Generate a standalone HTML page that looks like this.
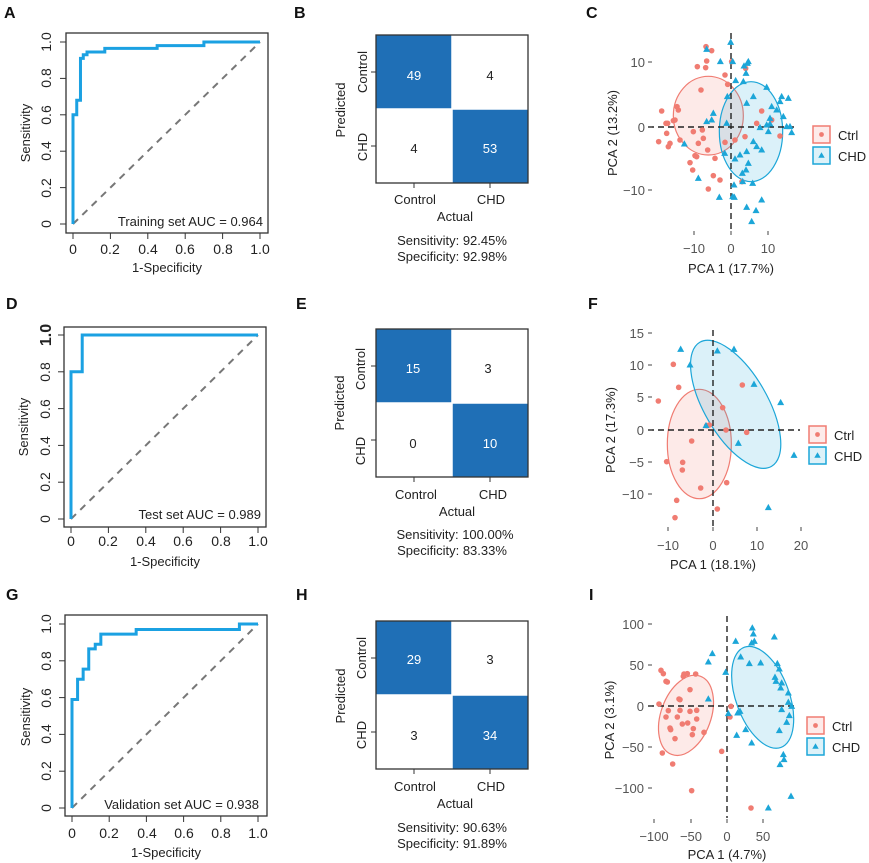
<!DOCTYPE html>
<html><head><meta charset="utf-8">
<style>
html,body{margin:0;padding:0;background:#fff;}
svg{display:block;font-family:"Liberation Sans",Arial,sans-serif;}
.lt{font-weight:bold;font-size:16px;fill:#111;}
.t{font-size:13px;fill:#222;}
.g{font-size:13px;fill:#555;}
.rt{font-size:14px;fill:#222;}
</style></head>
<body>
<svg id="s" width="869" height="863" viewBox="0 0 869 863" xmlns="http://www.w3.org/2000/svg">
<g id="shapes"></g>
<text class="lt" x="4" y="18">A</text>
<text class="lt" x="294" y="18">B</text>
<text class="lt" x="586" y="18">C</text>
<text class="lt" x="6" y="309">D</text>
<text class="lt" x="296" y="309">E</text>
<text class="lt" x="588" y="309">F</text>
<text class="lt" x="6" y="600">G</text>
<text class="lt" x="296" y="600">H</text>
<text class="lt" x="589" y="600">I</text>

<g class="t">
<g class="rt"><text x="73" y="254" text-anchor="middle">0</text><text x="110" y="254" text-anchor="middle">0.2</text><text x="148" y="254" text-anchor="middle">0.4</text><text x="185" y="254" text-anchor="middle">0.6</text><text x="223" y="254" text-anchor="middle">0.8</text><text x="260" y="254" text-anchor="middle">1.0</text></g>
<text x="167" y="272" text-anchor="middle">1-Specificity</text>
<text x="263" y="226" text-anchor="end">Training set AUC = 0.964</text>
<text transform="translate(30,133) rotate(-90)" text-anchor="middle">Sensitivity</text>
<g class="rt">
<text transform="translate(51,224) rotate(-90)" text-anchor="middle">0</text>
<text transform="translate(51,188) rotate(-90)" text-anchor="middle">0.2</text>
<text transform="translate(51,151) rotate(-90)" text-anchor="middle">0.4</text>
<text transform="translate(51,115) rotate(-90)" text-anchor="middle">0.6</text>
<text transform="translate(51,78) rotate(-90)" text-anchor="middle">0.8</text>
<text transform="translate(51,42) rotate(-90)" text-anchor="middle">1.0</text></g>
</g>
<g class="t">
<g class="rt"><text x="71" y="546" text-anchor="middle">0</text><text x="108" y="546" text-anchor="middle">0.2</text><text x="146" y="546" text-anchor="middle">0.4</text><text x="183" y="546" text-anchor="middle">0.6</text><text x="221" y="546" text-anchor="middle">0.8</text><text x="258" y="546" text-anchor="middle">1.0</text></g>
<text x="165" y="566" text-anchor="middle">1-Specificity</text>
<text x="261" y="519" text-anchor="end">Test set AUC = 0.989</text>
<text transform="translate(28,427) rotate(-90)" text-anchor="middle">Sensitivity</text>
<g class="rt">
<text transform="translate(50,519) rotate(-90)" text-anchor="middle">0</text>
<text transform="translate(50,482) rotate(-90)" text-anchor="middle">0.2</text>
<text transform="translate(50,446) rotate(-90)" text-anchor="middle">0.4</text>
<text transform="translate(50,409) rotate(-90)" text-anchor="middle">0.6</text>
<text transform="translate(50,372) rotate(-90)" text-anchor="middle">0.8</text>
<text transform="translate(51,335) rotate(-90)" text-anchor="middle" style="font-weight:bold;font-size:16px">1.0</text></g>
</g>
<g class="t">
<g class="rt"><text x="72" y="838" text-anchor="middle">0</text><text x="109" y="838" text-anchor="middle">0.2</text><text x="147" y="838" text-anchor="middle">0.4</text><text x="184" y="838" text-anchor="middle">0.6</text><text x="221" y="838" text-anchor="middle">0.8</text><text x="258" y="838" text-anchor="middle">1.0</text></g>
<text x="166" y="857" text-anchor="middle">1-Specificity</text>
<text x="259" y="809" text-anchor="end">Validation set AUC = 0.938</text>
<text transform="translate(30,717) rotate(-90)" text-anchor="middle">Sensitivity</text>
<g class="rt">
<text transform="translate(51,808) rotate(-90)" text-anchor="middle">0</text>
<text transform="translate(51,771) rotate(-90)" text-anchor="middle">0.2</text>
<text transform="translate(51,734) rotate(-90)" text-anchor="middle">0.4</text>
<text transform="translate(51,698) rotate(-90)" text-anchor="middle">0.6</text>
<text transform="translate(51,661) rotate(-90)" text-anchor="middle">0.8</text>
<text transform="translate(51,624) rotate(-90)" text-anchor="middle">1.0</text></g>
</g>

<g class="t">
<text x="414" y="80" text-anchor="middle" style="fill:#fff">49</text>
<text x="490" y="80" text-anchor="middle">4</text>
<text x="414" y="153" text-anchor="middle">4</text>
<text x="490" y="153" text-anchor="middle" style="fill:#fff">53</text>
<text x="415" y="204" text-anchor="middle">Control</text>
<text x="491" y="204" text-anchor="middle">CHD</text>
<text x="455" y="221" text-anchor="middle">Actual</text>
<text x="452" y="245" text-anchor="middle">Sensitivity: 92.45%</text>
<text x="452" y="261" text-anchor="middle">Specificity: 92.98%</text>
<text transform="translate(345,110) rotate(-90)" text-anchor="middle">Predicted</text>
<text transform="translate(367,72) rotate(-90)" text-anchor="middle">Control</text>
<text transform="translate(367,147) rotate(-90)" text-anchor="middle">CHD</text>
</g>
<g class="t">
<text x="413" y="373" text-anchor="middle" style="fill:#fff">15</text>
<text x="488" y="373" text-anchor="middle">3</text>
<text x="413" y="448" text-anchor="middle">0</text>
<text x="490" y="448" text-anchor="middle" style="fill:#fff">10</text>
<text x="416" y="499" text-anchor="middle">Control</text>
<text x="493" y="499" text-anchor="middle">CHD</text>
<text x="457" y="516" text-anchor="middle">Actual</text>
<text x="455" y="539" text-anchor="middle">Sensitivity: 100.00%</text>
<text x="452" y="555" text-anchor="middle">Specificity: 83.33%</text>
<text transform="translate(344,403) rotate(-90)" text-anchor="middle">Predicted</text>
<text transform="translate(365,369) rotate(-90)" text-anchor="middle">Control</text>
<text transform="translate(365,451) rotate(-90)" text-anchor="middle">CHD</text>
</g>
<g class="t">
<text x="414" y="664" text-anchor="middle" style="fill:#fff">29</text>
<text x="490" y="664" text-anchor="middle">3</text>
<text x="414" y="740" text-anchor="middle">3</text>
<text x="490" y="740" text-anchor="middle" style="fill:#fff">34</text>
<text x="415" y="791" text-anchor="middle">Control</text>
<text x="491" y="791" text-anchor="middle">CHD</text>
<text x="455" y="808" text-anchor="middle">Actual</text>
<text x="452" y="832" text-anchor="middle">Sensitivity: 90.63%</text>
<text x="452" y="848" text-anchor="middle">Specificity: 91.89%</text>
<text transform="translate(345,696) rotate(-90)" text-anchor="middle">Predicted</text>
<text transform="translate(366,658) rotate(-90)" text-anchor="middle">Control</text>
<text transform="translate(366,735) rotate(-90)" text-anchor="middle">CHD</text>
</g>

<g class="g">
<text x="645" y="67" text-anchor="end">10</text><text x="645" y="132" text-anchor="end">0</text><text x="645" y="195" text-anchor="end">−10</text>
<text x="694" y="253" text-anchor="middle">−10</text><text x="731" y="253" text-anchor="middle">0</text><text x="768" y="253" text-anchor="middle">10</text>
</g>
<g class="t">
<text x="731" y="273" text-anchor="middle">PCA 1 (17.7%)</text>
<text transform="translate(617,133) rotate(-90)" text-anchor="middle">PCA 2 (13.2%)</text>
<text x="838" y="140">Ctrl</text><text x="838" y="161">CHD</text>
</g>
<g class="g">
<text x="644" y="338" text-anchor="end">15</text><text x="644" y="370" text-anchor="end">10</text><text x="644" y="402" text-anchor="end">5</text><text x="644" y="435" text-anchor="end">0</text><text x="644" y="467" text-anchor="end">−5</text><text x="644" y="499" text-anchor="end">−10</text>
<text x="668" y="550" text-anchor="middle">−10</text><text x="713" y="550" text-anchor="middle">0</text><text x="757" y="550" text-anchor="middle">10</text><text x="801" y="550" text-anchor="middle">20</text>
</g>
<g class="t">
<text x="713" y="569" text-anchor="middle">PCA 1 (18.1%)</text>
<text transform="translate(615,430) rotate(-90)" text-anchor="middle">PCA 2 (17.3%)</text>
<text x="834" y="440">Ctrl</text><text x="834" y="461">CHD</text>
</g>
<g class="g">
<text x="644" y="629" text-anchor="end">100</text><text x="644" y="670" text-anchor="end">50</text><text x="644" y="711" text-anchor="end">0</text><text x="644" y="752" text-anchor="end">−50</text><text x="644" y="793" text-anchor="end">−100</text>
<text x="654" y="841" text-anchor="middle">−100</text><text x="691" y="841" text-anchor="middle">−50</text><text x="727" y="841" text-anchor="middle">0</text><text x="763" y="841" text-anchor="middle">50</text>
</g>
<g class="t">
<text x="727" y="859" text-anchor="middle">PCA 1 (4.7%)</text>
<text transform="translate(614,720) rotate(-90)" text-anchor="middle">PCA 2 (3.1%)</text>
<text x="832" y="731">Ctrl</text><text x="832" y="752">CHD</text>
</g>
</svg>
<script>
(function(){
var NS="http://www.w3.org/2000/svg",G=document.getElementById("shapes");
function el(t,a){var e=document.createElementNS(NS,t);for(var k in a)e.setAttribute(k,a[k]);G.appendChild(e);return e;}
var RED="#F07C72",BLUE="#1CA6D8",CB="#1F6FB6";
function roc(bx,by,bw,bh,x0,x1,y1,y0,pts){
  el("rect",{x:bx,y:by,width:bw,height:bh,fill:"none",stroke:"#333","stroke-width":1.3});
  for(var i=0;i<=5;i++){var x=x0+(x1-x0)*i/5;el("line",{x1:x,y1:by+bh,x2:x,y2:by+bh+6,stroke:"#333"});
    var y=y0+(y1-y0)*i/5;el("line",{x1:bx-6,y1:y,x2:bx,y2:y,stroke:"#333"});}
  el("line",{x1:x0,y1:y0,x2:x1,y2:y1,stroke:"#777","stroke-width":2,"stroke-dasharray":"7,6"});
  var d=pts.map(function(p,i){return (i?"L":"M")+(x0+(x1-x0)*p[0])+","+(y0+(y1-y0)*p[1]);}).join("");
  el("path",{d:d,fill:"none",stroke:"#1BA1E2","stroke-width":3,"stroke-linejoin":"miter"});
}
function st(a){var r=[[0,0]];for(var i=0;i<a.length;i+=2){var p=r[r.length-1];r.push([p[0],a[i+1]]);r.push([a[i],a[i+1]]);}return r;}
roc(66,33,202,200,73,260,42,224,st([0.02,0.6,0.02,0.61,0.04,0.68,0.055,0.91,0.075,0.93,0.17,0.945,0.45,0.965,0.70,0.98,1,1]));
roc(64,327,202,200,71,258,335,519,st([0.06,0.8,1,1]));
roc(65,615,202,201,72,258,624,808,st([0.03,0.59,0.06,0.70,0.09,0.755,0.125,0.865,0.155,0.89,0.345,0.945,0.9,0.97,1,1]));
function cm(top){
  var l=376,w=76,h=74;
  el("rect",{x:l,y:top,width:w,height:h,fill:CB});
  el("rect",{x:l+w,y:top+h,width:w,height:h,fill:CB});
  el("line",{x1:l+w,y1:top,x2:l+w,y2:top+2*h,stroke:"#fff","stroke-width":1.5});
  el("line",{x1:l,y1:top+h,x2:l+2*w,y2:top+h,stroke:"#fff","stroke-width":1.5});
  el("rect",{x:l,y:top,width:2*w,height:2*h,fill:"none",stroke:"#333","stroke-width":1.3});
  el("line",{x1:l-5,y1:top+h/2,x2:l,y2:top+h/2,stroke:"#333"});
  el("line",{x1:l-5,y1:top+1.5*h,x2:l,y2:top+1.5*h,stroke:"#333"});
  el("line",{x1:l+w/2,y1:top+2*h,x2:l+w/2,y2:top+2*h+5,stroke:"#333"});
  el("line",{x1:l+1.5*w,y1:top+2*h,x2:l+1.5*w,y2:top+2*h+5,stroke:"#333"});
}
cm(35);cm(329);cm(621);
function pca(o){
  var oy=o.oy;
  function X(z){return 580+z/3;} function Y(z){return oy+z/3;}
  o.ell.forEach(function(e){
    el("ellipse",{cx:0,cy:0,rx:e.rx/3,ry:e.ry/3,fill:e.c,"fill-opacity":0.16,stroke:e.c,"stroke-width":1.2,transform:"translate("+X(e.cx)+","+Y(e.cy)+") rotate("+(e.r||0)+")"});
  });
  el("line",{x1:o.vx,y1:o.vy0,x2:o.vx,y2:o.vy1,stroke:"#222","stroke-width":1.4,"stroke-dasharray":"6,4"});
  el("line",{x1:o.hx0,y1:o.hy,x2:o.hx1,y2:o.hy,stroke:"#222","stroke-width":1.4,"stroke-dasharray":"6,4"});
  o.yt.forEach(function(y){el("line",{x1:648,y1:y,x2:652,y2:y,stroke:"#444"});});
  o.xt.forEach(function(x){el("line",{x1:x,y1:o.xty,x2:x,y2:o.xty+4,stroke:"#444"});});
  o.ctrl.forEach(function(p){el("circle",{cx:X(p[0]),cy:Y(p[1]),r:2.8,fill:RED});});
  o.chd.forEach(function(p){var x=X(p[0]),y=Y(p[1]);el("path",{d:"M"+x+","+(y-3.8)+"L"+(x+3.5)+","+(y+2.5)+"L"+(x-3.5)+","+(y+2.5)+"Z",fill:BLUE});});
  var L=o.leg;
  el("rect",{x:L[0],y:L[1],width:17,height:17,fill:RED,"fill-opacity":0.15,stroke:RED,"stroke-width":1.5});
  el("circle",{cx:L[0]+8.5,cy:L[1]+8.5,r:2.4,fill:RED});
  el("rect",{x:L[0],y:L[1]+21,width:17,height:17,fill:BLUE,"fill-opacity":0.15,stroke:BLUE,"stroke-width":1.5});
  var x=L[0]+8.5,y=L[1]+29.5;el("path",{d:"M"+x+","+(y-3.2)+"L"+(x+3.2)+","+(y+2.2)+"L"+(x-3.2)+","+(y+2.2)+"Z",fill:BLUE});
}
pca({oy:0,vx:731,vy0:33,vy1:233,hx0:648,hx1:797,hy:127,yt:[62,127,190],xt:[694,731,768],xty:231,leg:[813,126],
 ell:[{cx:385,cy:347,rx:105,ry:118,c:RED},{cx:513,cy:395,rx:95,ry:150,c:BLUE}],
 ctrl:[[378,140],[395,152],[380,183],[352,200],[377,203],[435,225],[455,185],[443,253],[363,270],[291,320],[295,330],[245,333],[285,360],[280,362],[263,370],[258,370],[260,400],[236,425],[270,430],[265,440],[300,420],[340,395],[367,390],[370,415],[355,430],[383,450],[345,467],[350,470],[330,488],[405,475],[338,510],[400,527],[385,567],[435,427],[465,420],[495,410],[497,205],[530,370],[545,333],[575,360],[600,408],[486,545],[420,540]],
 chd:[[380,148],[452,127],[421,185],[458,185],[505,185],[502,190],[492,198],[498,220],[490,245],[467,242],[442,290],[500,310],[520,290],[560,262],[605,290],[625,295],[600,305],[575,320],[590,330],[570,355],[610,350],[620,380],[630,380],[635,398],[560,375],[565,395],[540,383],[520,425],[530,440],[545,450],[500,455],[480,465],[465,477],[505,490],[487,520],[498,510],[488,545],[518,550],[462,555],[458,590],[418,592],[463,592],[545,600],[500,622],[528,632],[515,665],[400,340],[395,360],[380,365],[313,432],[355,535],[434,460],[440,370],[570,372]]});
pca({oy:290,vx:713,vy0:330,vy1:530,hx0:648,hx1:800,hy:430,yt:[333,365,397,430,462,494],xt:[668,713,757,801],xty:527,leg:[809,426],
 ell:[{cx:358,cy:462,rx:96,ry:164,c:RED},{cx:467,cy:343,rx:95,ry:215,r:-30,c:BLUE}],
 ctrl:[[280,223],[296,292],[235,333],[428,353],[487,285],[380,407],[438,420],[500,427],[335,453],[260,515],[308,517],[307,540],[440,578],[362,594],[290,631],[412,657],[285,683],[388,405]],
 chd:[[302,178],[412,183],[462,178],[330,225],[522,283],[602,338],[378,407],[475,460],[642,496],[565,653]]});
pca({oy:583,vx:727,vy0:616,vy1:818,hx0:648,hx1:798,hy:706,yt:[624,665,706,747,788],xt:[654,691,727,763],xty:819,leg:[807,717],
 ell:[{cx:318,cy:397,rx:75,ry:125,r:20,c:RED},{cx:548,cy:343,rx:80,ry:160,r:-20,c:BLUE}],
 ctrl:[[243,262],[250,272],[258,295],[262,297],[312,273],[310,280],[322,272],[347,273],[330,320],[297,348],[300,350],[237,363],[265,383],[258,402],[300,382],[292,402],[270,435],[272,440],[307,423],[323,420],[350,408],[340,437],[337,455],[372,448],[285,467],[247,510],[278,543],[425,505],[453,370],[450,402],[335,623],[513,675],[350,382],[330,385]],
 chd:[[397,212],[385,237],[385,348],[437,268],[517,135],[520,153],[515,180],[523,175],[583,162],[467,175],[482,222],[508,242],[542,240],[592,242],[598,258],[585,283],[588,295],[605,300],[602,315],[625,330],[625,358],[605,380],[635,370],[628,398],[620,418],[598,443],[470,457],[473,390],[480,385],[497,440],[515,480],[610,515],[612,530],[600,545],[565,675],[633,640],[445,392]]});
})();
</script>
</body></html>
